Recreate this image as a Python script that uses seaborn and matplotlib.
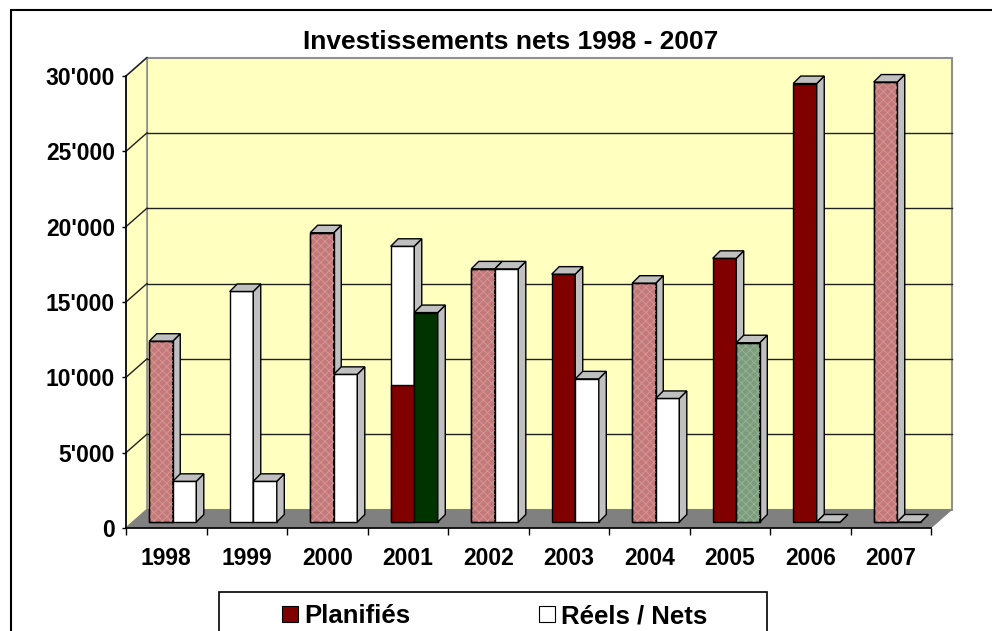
import matplotlib
matplotlib.use("Agg")
import matplotlib.pyplot as plt
import matplotlib.transforms as mtransforms
from matplotlib.patches import Polygon, Rectangle, Patch
from matplotlib.ticker import FuncFormatter
import seaborn as sns
import pandas as pd

# données
years = ["1998", "1999", "2000", "2001", "2002", "2003", "2004", "2005", "2006", "2007"]
planifies = [12000, 15300, 19200, 18300, 16800, 16450, 15850, 17500, 29100, 29200]
reels = [2700, 2700, 9800, 13900, 16800, 9500, 8200, 11900, 0, 0]
planifies_bas_2001 = [0, 0, 0, 9100, 0, 0, 0, 0, 0, 0]  # partie rouge foncé de la barre 2001

ROSE = "#c47878"
ROUGE = "#800000"
BLANC = "#ffffff"
VERT = "#003300"
VERT_CLAIR = "#7c9c7c"
couleurs_plan = [ROSE, BLANC, ROSE, BLANC, ROSE, ROUGE, ROSE, ROUGE, ROUGE, ROSE]
couleurs_reel = [BLANC, BLANC, BLANC, VERT, BLANC, BLANC, BLANC, VERT_CLAIR, BLANC, BLANC]
# texture quadrillée des barres claires
textures = {ROSE: "#d29696", VERT_CLAIR: "#96b296"}

plt.rcParams["font.family"] = ["Liberation Sans", "DejaVu Sans"]
plt.rcParams["font.weight"] = "bold"
plt.rcParams["hatch.linewidth"] = 0.7

W, H = 992, 631
fig = plt.figure(figsize=(W / 100, H / 100), dpi=100)
ax = fig.add_axes([126 / W, (H - 528) / H, 805 / W, 452 / H])
ax.patch.set_visible(False)

df = pd.DataFrame({
    "annee": years * 2,
    "serie": ["Planifiés"] * len(years) + ["Réels / Nets"] * len(years),
    "valeur": planifies + reels,
})
sns.barplot(data=df, x="annee", y="valeur", hue="serie", width=0.585,
            palette=[ROUGE, BLANC], edgecolor="black", linewidth=1,
            saturation=1, errorbar=None, legend=False, ax=ax)
barres = sorted(ax.patches[:], key=lambda r: r.get_x())

ax.set_xlim(-0.5, 9.5)
ax.set_ylim(0, 30000)

# pixels -> unités de données
sx = 10 / 805
sy = 30000 / 452

def px(dxp, dyp):
    return dxp * sx, dyp * sy

# décalage des barres (profondeur) et du fond
decal = mtransforms.ScaledTranslation(6.5 / 100, 6 / 100, fig.dpi_scale_trans)
t_bar = ax.transData + decal
pdx, pdy = px(7.5, 7.5)
wdx, wdy = px(21, 18.5)

# murs
mur_fond = Rectangle((-0.5 + wdx, wdy), 10, 30000, fc="#ffffc0", ec="#909090", lw=1.5,
                     transform=ax.transData, zorder=0.5, clip_on=False)
ax.add_patch(mur_fond)
mur_gauche = Polygon([(-0.5, 0), (-0.5, 30000), (-0.5 + wdx, 30000 + wdy), (-0.5 + wdx, wdy)],
                     closed=True, fc="#ffffc0", ec="#909090", lw=1.2, zorder=0.5, clip_on=False)
ax.add_patch(mur_gauche)
for v in range(5000, 30001, 5000):
    if v < 30000:
        ax.plot([-0.5 + wdx, 9.5 + wdx], [v + wdy, v + wdy], color="#202020", lw=1,
                zorder=0.6, clip_on=False)
    ax.plot([-0.5, -0.5 + wdx], [v, v + wdy], color="#202020", lw=1, zorder=0.6, clip_on=False)
sol = Polygon([(-0.5, 0), (9.5, 0), (9.5 + wdx, wdy), (-0.5 + wdx, wdy)],
              closed=True, fc="#808080", ec="#808080", lw=0.5, zorder=0.7, clip_on=False)
ax.add_patch(sol)


def cube(p, couleur, z):
    x0, w, h = p.get_x(), p.get_width(), p.get_height()
    p.set_transform(t_bar)
    p.set_facecolor(couleur)
    p.set_edgecolor("black")
    p.set_zorder(z)
    p.set_clip_on(False)
    if couleur in textures and h > 0:
        ax.add_patch(Rectangle((x0, 0), w, h, fill=False, ec=textures[couleur], lw=0,
                               hatch="xxxx", transform=t_bar, zorder=z + 0.1, clip_on=False))
        ax.add_patch(Rectangle((x0, 0), w, h, fill=False, ec="black", lw=1,
                               transform=t_bar, zorder=z + 0.2, clip_on=False))
    cote = Polygon([(x0 + w, 0), (x0 + w + pdx, pdy), (x0 + w + pdx, h + pdy), (x0 + w, h)],
                   closed=True, fc="#c0c0c0", ec="black", lw=1, transform=t_bar,
                   zorder=z, clip_on=False)
    dessus = Polygon([(x0, h), (x0 + w, h), (x0 + w + pdx, h + pdy), (x0 + pdx, h + pdy)],
                     closed=True, fc="#c0c0c0", ec="black", lw=1, transform=t_bar,
                     zorder=z, clip_on=False)
    ax.add_patch(cote)
    ax.add_patch(dessus)


for i in range(len(years)):
    bp, br = barres[2 * i], barres[2 * i + 1]
    cube(bp, couleurs_plan[i], 3 + 2 * i)
    cube(br, couleurs_reel[i], 4 + 2 * i)
    if planifies_bas_2001[i] > 0:
        ax.bar(bp.get_x(), planifies_bas_2001[i], width=bp.get_width(), align="edge",
               color=ROUGE, edgecolor="black", linewidth=1, transform=t_bar,
               zorder=3.5 + 2 * i, clip_on=False)

# axes
for s in ["top", "right"]:
    ax.spines[s].set_visible(False)
ax.spines["left"].set_linewidth(1.2)
ax.spines["bottom"].set_linewidth(1.2)
ax.spines["left"].set_zorder(1)
ax.spines["bottom"].set_zorder(1)
ax.set_yticks(range(0, 30001, 5000))
ax.yaxis.set_major_formatter(FuncFormatter(lambda v, _: f"{int(v):,}".replace(",", "'")))
ax.tick_params(axis="y", length=3, width=1, pad=5, labelsize=16.5)
ax.set_xticks(range(10))
ax.set_xticklabels(years)
ax.set_xticks([i - 0.5 for i in range(11)], minor=True)
ax.tick_params(axis="x", which="major", length=0, pad=14, labelsize=16.5)
ax.tick_params(axis="x", which="minor", length=5, width=1)
ax.set_xlabel("")
ax.set_ylabel("")
for lab in ax.get_xticklabels() + ax.get_yticklabels():
    lab.set_fontweight("bold")

fig.text(510.5 / W, 1 - 49 / H, "Investissements nets 1998 - 2007", ha="center",
         va="baseline", fontsize=19, fontweight="bold")

poignees = [Patch(fc=ROUGE, ec="black", lw=0.8), Patch(fc=BLANC, ec="black", lw=0.8)]
leg = fig.legend(poignees, ["Planifiés", "Réels / Nets"], loc="center",
                 bbox_to_anchor=(494.5 / W, 1 - 616 / H), ncol=2, frameon=False,
                 fontsize=18.5, handlelength=0.62, handleheight=0.62,
                 handletextpad=0.23, columnspacing=5.0, borderpad=0, borderaxespad=0)
for t in leg.get_texts():
    t.set_fontweight("bold")
fig.add_artist(Rectangle((219 / W, -0.1), 548 / W, 0.1 + 1 - 592 / H, transform=fig.transFigure,
                         fill=False, ec="black", lw=1.2))

cadre = Rectangle((11 / W, -0.5), 2, 1.5 - 10 / H, transform=fig.transFigure, fill=False,
                  ec="black", lw=1.5)
fig.add_artist(cadre)

fig.savefig("out.png", dpi=100, facecolor="white")
